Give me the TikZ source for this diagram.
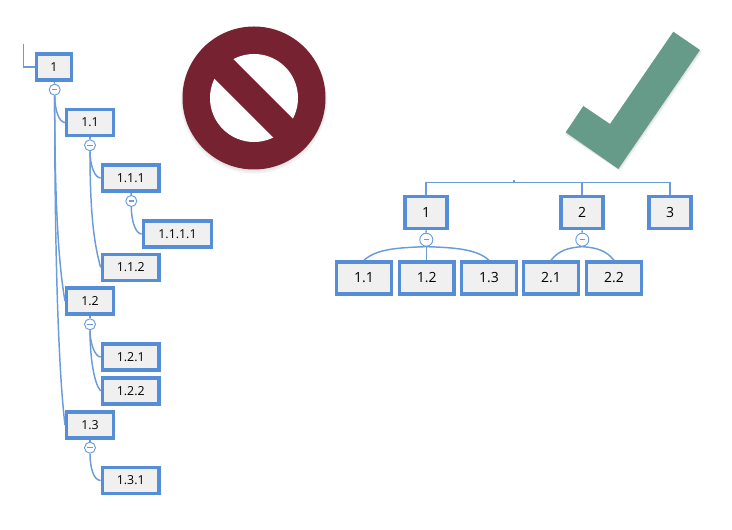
\documentclass[tikz,border=0pt]{standalone}
\usepackage{fontspec}
\setmainfont{Open Sans}
\usepackage{xcolor}
\definecolor{boxblue}{RGB}{85,141,214}
\definecolor{linkblue}{RGB}{106,156,220}
\definecolor{boxfill}{RGB}{240,240,240}
\definecolor{stopred}{RGB}{118,34,49}
\definecolor{okgreen}{RGB}{102,155,138}
\tikzset{
  treebox/.style={draw=boxblue,fill=boxfill,line width=2.6pt,inner sep=0pt,font=\fontsize{9.3pt}{11pt}\selectfont,text=black},
  boxS/.style={treebox,minimum height=26.2*0.75pt},
  boxA/.style={boxS,minimum width=34.8*0.75pt},
  boxB/.style={boxS,minimum width=46.6*0.75pt},
  boxC/.style={boxS,minimum width=56.6*0.75pt},
  boxD/.style={boxS,minimum width=68.2*0.75pt},
  boxtop/.style={treebox,minimum width=42*0.75pt,minimum height=32*0.75pt,font=\fontsize{10.5pt}{12pt}\selectfont},
  boxsub/.style={treebox,minimum width=54.6*0.75pt,minimum height=32*0.75pt,font=\fontsize{10.5pt}{12pt}\selectfont},
  toggle/.style={circle,draw=linkblue,fill=white,line width=0.7pt,inner sep=0pt,minimum size=#1*0.75pt,
    path picture={\draw[linkblue,line width=0.8pt] ([xshift=-2pt]path picture bounding box.center) -- ([xshift=2pt]path picture bounding box.center);}},
  toggle/.default=11,
  link/.style={draw=linkblue,line width=1.1pt},
}

\begin{document}
\begin{tikzpicture}[x=0.75pt,y=0.75pt,yscale=-1,xscale=1]
\useasboundingbox (0,0) rectangle (732,530);

%Shape: forbidden sign
\fill[black,opacity=0.05] (254,100.5) circle (73);
\fill[black,opacity=0.05] (254,99.5) circle (72);
\fill[stopred] (254,98) circle (71.5);
\fill[white] (254,98) circle (44);
\draw[stopred,line width=20.25pt] (212,57) -- (296,141);

%Shape: check mark
\fill[black,opacity=0.05] (675.3,33.7) -- (702,52) -- (620.3,171) -- (565.7,135.3) -- (583.3,109) -- (610,127) -- cycle;
\fill[black,opacity=0.06] (674.3,32.7) -- (701,51) -- (619.3,170) -- (565.7,134) -- (583.3,108) -- (610,126) -- cycle;
\fill[okgreen] (673.3,31.7) -- (700,50) -- (618.3,169) -- (565.7,132.3) -- (583.3,106) -- (610,124) -- cycle;

% left tree: boxes
\node[boxA] (n1) at (54,67) {1};
\node[boxB] (n11) at (90,122.5) {1.1};
\node[boxC] (n111) at (130.7,178) {1.1.1};
\node[boxD] (n1111) at (177.5,234) {1.1.1.1};
\node[boxC] (n112) at (130.7,267.5) {1.1.2};
\node[boxB] (n12) at (90,301) {1.2};
\node[boxC] (n121) at (130.7,357) {1.2.1};
\node[boxC] (n122) at (130.7,391) {1.2.2};
\node[boxB] (n13) at (90,425) {1.3};
\node[boxC] (n131) at (130.7,480.5) {1.3.1};

% left tree: toggles
\node[toggle] (t1) at (54.7,89.7) {};
\node[toggle] (t11) at (90,145.3) {};
\node[toggle] (t111) at (131.3,201) {};
\node[toggle] (t12) at (90,324.3) {};
\node[toggle] (t13) at (90,447.7) {};

% left tree: links
\coordinate (stub) at (23.3,44);
\draw[link] (stub) |- (n1.west);
\draw[link] (n1) -- (t1);
\draw[link] (n11) -- (t11);
\draw[link] (n111) -- (t111);
\draw[link] (n12) -- (t12);
\draw[link] (n13) -- (t13);
\draw[link] (t1.south) .. controls +(0,14) and +(-6,0) .. (n11.west);
\draw[link] (t1.south) .. controls +(0,100) and +(-7,-40) .. (n12.west);
\draw[link] (t1.south) .. controls +(0,150) and +(-7,-60) .. (n13.west);
\draw[link] (t11.south) .. controls +(0,14) and +(-6,0) .. (n111.west);
\draw[link] (t11.south) .. controls +(0,60) and +(-7,-25) .. (n112.west);
\draw[link] (t111.south) .. controls +(0,14) and +(-6,0) .. (n1111.west);
\draw[link] (t12.south) .. controls +(0,12) and +(-6,0) .. (n121.west);
\draw[link] (t12.south) .. controls +(0,26) and +(-7,-8) .. (n122.west);
\draw[link] (t13.south) .. controls +(0,14) and +(-7,0) .. (n131.west);

% right tree: boxes
\node[boxtop] (r1) at (426,212.7) {1};
\node[boxtop] (r2) at (582,212.7) {2};
\node[boxtop] (r3) at (670,212.7) {3};
\node[boxsub] (r11) at (364,278) {1.1};
\node[boxsub] (r12) at (426.7,278) {1.2};
\node[boxsub] (r13) at (489,278) {1.3};
\node[boxsub] (r21) at (551,278) {2.1};
\node[boxsub] (r22) at (614,278) {2.2};

% right tree: toggles
\node[toggle=13] (t1r) at (426.3,239.7) {};
\node[toggle=13] (t2r) at (582.3,239.7) {};

% right tree: links
\coordinate (busl) at (426,182.7);
\coordinate (busr) at (670,182.7);
\coordinate (busm) at (514,182.7);
\coordinate (bust) at (514,180.5);
\draw[link] (r1.north) -- (busl) -- (busr) -- (r3.north);
\draw[link] (r2.north) -- (r2.north |- busl);
\draw[link] (busm) -- (bust);
\draw[link] (r1) -- (t1r);
\draw[link] (r2) -- (t2r);
\draw[link] (t1r.south) .. controls +(-30,1) and +(12,-11) .. (r11.north);
\draw[link] (t1r.south) -- (r12.north -| t1r.south);
\draw[link] (t1r.south) .. controls +(30,1) and +(-12,-11) .. (r13.north);
\draw[link] (t2r.south) .. controls +(-14,1) and +(8,-10) .. (r21.north);
\draw[link] (t2r.south) .. controls +(14,1) and +(-8,-10) .. (r22.north);
\end{tikzpicture}
\end{document}
